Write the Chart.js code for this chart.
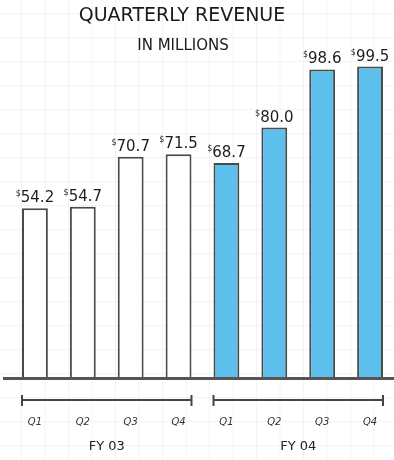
<!DOCTYPE html>
<html><head><meta charset="utf-8">
<script src="https://cdn.jsdelivr.net/npm/chart.js@4.4.0/dist/chart.umd.min.js"></script>
<style>html,body{margin:0;padding:0;background:#fff;overflow:hidden}#wrap{width:394px;height:460px;position:relative}</style>
</head><body><div id="wrap"><canvas id="c"></canvas></div>
<script>
const quarters = ['Q1','Q2','Q3','Q4','Q1','Q2','Q3','Q4'];
const fiscalYears = ['FY 03','FY 04'];
const yearOfBar = [0,0,0,0,1,1,1,1];
const revenue = [54.2,54.7,70.7,71.5,68.7,80.0,98.6,99.5];
const titleText = 'QUARTERLY REVENUE';
const subtitleText = 'IN MILLIONS';
const yearFill = ['#ffffff','#5dbfeb'];

const FONT = '"DejaVu Sans", sans-serif';

const paperGrid = {
  id: 'paperGrid',
  beforeDraw(chart) {
    const ctx = chart.ctx;
    ctx.save();
    ctx.fillStyle = '#ffffff';
    ctx.fillRect(0, 0, chart.width, chart.height);
    ctx.strokeStyle = 'rgba(0,0,0,0.045)';
    ctx.lineWidth = 1;
    for (let x = 21.5; x < chart.width; x += 23.5) {
      ctx.beginPath(); ctx.moveTo(x, 0); ctx.lineTo(x, chart.height); ctx.stroke();
    }
    for (let y = 13.5; y < chart.height; y += 24) {
      ctx.beginPath(); ctx.moveTo(0, y); ctx.lineTo(chart.width, y); ctx.stroke();
    }
    ctx.restore();
  }
};

const decorations = {
  id: 'decorations',
  afterDatasetsDraw(chart) {
    const ctx = chart.ctx;
    const meta = chart.getDatasetMeta(0);
    const yS = chart.scales.y;
    ctx.save();
    // baseline
    const y0 = yS.getPixelForValue(0) + 0.5;
    ctx.strokeStyle = '#555';
    ctx.lineWidth = 3;
    ctx.beginPath(); ctx.moveTo(3, y0); ctx.lineTo(chart.width, y0); ctx.stroke();

    // value labels
    ctx.fillStyle = '#1e1e1e';
    ctx.textBaseline = 'alphabetic';
    ctx.textAlign = 'left';
    meta.data.forEach((bar, i) => {
      const num = revenue[i].toFixed(1);
      ctx.font = '15px ' + FONT;
      const wN = ctx.measureText(num).width;
      ctx.font = '8px ' + FONT;
      const wD = ctx.measureText('$').width;
      const start = bar.x - (wN + wD) / 2;
      const base = bar.y - 6;
      ctx.fillText('$', start, base - 6);
      ctx.font = '15px ' + FONT;
      ctx.fillText(num, start + wD, base);
    });

    // brackets and fiscal year labels
    ctx.strokeStyle = '#444';
    ctx.lineWidth = 2;
    fiscalYears.forEach((fy, g) => {
      const idx = yearOfBar.map((v, i) => v === g ? i : -1).filter(i => i >= 0);
      const first = meta.data[idx[0]], last = meta.data[idx[idx.length - 1]];
      const x1 = first.x - first.width / 2, x2 = last.x + last.width / 2;
      const by = 400;
      ctx.beginPath();
      ctx.moveTo(x1, by); ctx.lineTo(x2, by);
      ctx.moveTo(x1, by - 5); ctx.lineTo(x1, by + 6);
      ctx.moveTo(x2, by - 5); ctx.lineTo(x2, by + 6);
      ctx.stroke();
      ctx.font = '13px ' + FONT;
      ctx.textAlign = 'center';
      ctx.textBaseline = 'middle';
      ctx.fillStyle = '#222';
      ctx.fillText(fy, (first.x + last.x) / 2, 447);
    });

    // titles
    ctx.textAlign = 'center';
    ctx.textBaseline = 'middle';
    ctx.fillStyle = '#1a1a1a';
    ctx.font = '19px ' + FONT;
    ctx.fillText(titleText, 182, 16);
    ctx.font = '15px ' + FONT;
    ctx.fillText(subtitleText, 183, 46);
    ctx.restore();
  }
};

new Chart(document.getElementById('c'), {
  type: 'bar',
  data: {
    labels: quarters,
    datasets: [{
      data: revenue,
      backgroundColor: yearOfBar.map(g => yearFill[g]),
      borderColor: '#4a4a4a',
      borderWidth: 2,
      borderSkipped: 'bottom',
      categoryPercentage: 1,
      barPercentage: 0.54
    }]
  },
  options: {
    responsive: true,
    maintainAspectRatio: false,
    animation: false,
    layout: { padding: { top: 65, left: 11, right: 0, bottom: 28 } },
    plugins: { legend: { display: false }, tooltip: { enabled: false }, title: { display: false } },
    scales: {
      x: {
        grid: { display: true, drawOnChartArea: false, drawTicks: true, tickLength: 34, tickColor: 'rgba(0,0,0,0)' },
        border: { display: false },
        ticks: { padding: 4, color: '#333', font: { family: FONT, size: 10, style: 'italic' } }
      },
      y: { display: false, min: 0, max: 100 }
    }
  },
  plugins: [paperGrid, decorations]
});
</script>
</body></html>
